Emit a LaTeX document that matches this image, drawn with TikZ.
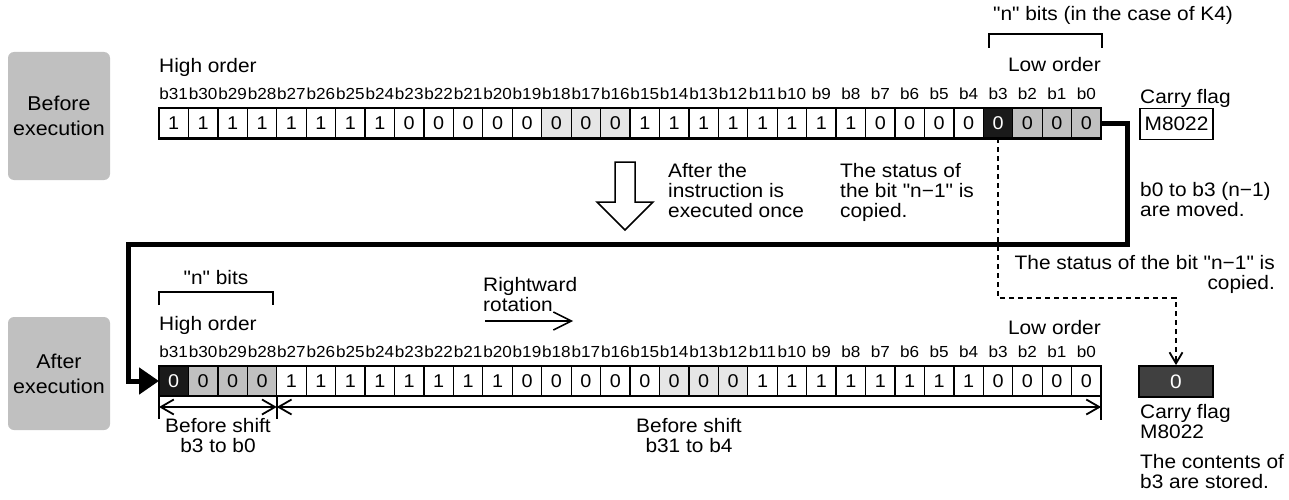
\documentclass[tikz,border=0pt]{standalone}
\usepackage{fontspec}
\setmainfont[FakeStretch=1.07, Ligatures=TeXOff]{Liberation Sans}
\usetikzlibrary{arrows.meta,calc}

\definecolor{phasegray}{HTML}{C0C0C0}
\definecolor{lightcell}{HTML}{E6E6E6}
\definecolor{graycell}{HTML}{C0C0C0}
\definecolor{darkcell}{HTML}{1A1A1A}
\definecolor{flagdark}{HTML}{404040}

\tikzset{
  bitcell/.style={draw, line width=1.3pt, minimum width=29.44pt, minimum height=30pt,
    inner sep=0pt, outer sep=0pt, font=\fontsize{18.5}{20}\selectfont},
  cplain/.style={fill=white},
  clight/.style={fill=lightcell},
  cgray/.style={fill=graycell},
  cdark/.style={fill=darkcell, text=white},
  bitno/.style={anchor=base, inner sep=0pt, font=\fontsize{16}{17}\selectfont},
  note/.style={inner sep=0pt, align=left, font=\fontsize{19.5}{20}\selectfont},
  phase/.style={fill=phasegray, rounded corners=6pt, minimum width=102pt, align=center,
    font=\fontsize{20}{25}\selectfont},
  flagbox/.style={draw, line width=1.8pt, minimum width=74pt, minimum height=31pt,
    inner sep=0pt, font=\fontsize{19.5}{20}\selectfont},
  vee/.style={line width=1.5pt, -{Straight Barb[length=18pt,width=18pt]}},
  dimarrow/.style={line width=1.8pt,
    {Straight Barb[length=13pt,width=15pt]}-{Straight Barb[length=13pt,width=15pt]}},
  flow/.style={line width=5pt, -{Triangle[length=20pt,width=26pt]}},
  copyline/.style={line width=1.8pt, dash pattern=on 5pt off 4pt,
    -{Straight Barb[length=11pt,width=13pt]}},
}

\begin{document}
\begin{tikzpicture}[x=1pt, y=-1pt]
    % --- page frame ---
    \useasboundingbox (0,0) rectangle (1289,500);

    % --- parameters ---
    \def\xo{159}       % left edge of both registers
    \def\cw{29.44}     % width of one bit cell
    \def\ytop{123.3}   % centre line of upper register
    \def\ybot{381}     % centre line of lower register

    % --- before / after boxes ---
    \node[phase, minimum height=128pt] (before) at (59,116) {Before\\execution};
    \node[phase, minimum height=113pt] (after) at (59,373.5) {After\\execution};

    % --- upper register (before execution) ---
    \foreach \v/\s [count=\i from 0] in {1/cplain,1/cplain,1/cplain,1/cplain,1/cplain,1/cplain,1/cplain,1/cplain,
        0/cplain,0/cplain,0/cplain,0/cplain,0/cplain,0/clight,0/clight,0/clight,
        1/cplain,1/cplain,1/cplain,1/cplain,1/cplain,1/cplain,1/cplain,1/cplain,
        0/cplain,0/cplain,0/cplain,0/cplain,0/cdark,0/cgray,0/cgray,0/cgray}{
      \pgfmathtruncatemacro{\b}{31-\i}
      \node[bitcell, style=\s] (top\b) at ({\xo+(\i+0.5)*\cw},\ytop) {\v};
      \node[bitno] (ntop\b) at ({\xo+(\i+0.5)*\cw},100) {b\b};
    }
    \draw[line width=2.4pt] (top31.north west) rectangle (top0.south east);

    \node[note, anchor=base west] (hightop) at (159,72.5) {High order};
    \node[note, anchor=base east] (lowtop) at (1101,72) {Low order};
    \node[note, anchor=base] (nbitstop) at (1113,21) {"n" bits (in the case of K4)};
    \draw[line width=1.8pt] (989,48) -- (989,34) -- (1102,34) -- (1102,48);

    % carry flag before
    \node[note, anchor=base west] (carrytop) at (1140,104) {Carry flag};
    \node[flagbox, minimum width=73pt] (flagtop) at (1176.5,124) {M8022};

    % --- middle notes ---
    \draw[line width=1.5pt] (615,162) -- (635,162) -- (635,202) -- (653,202) -- (625,230)
        -- (597,202) -- (615,202) -- cycle;
    \node[note, anchor=north west] (oncetxt) at (668,163) {After the\\instruction is\\executed once};
    \node[note, anchor=north west] (copytxt) at (840,163) {The status of\\the bit "n−1" is\\copied.};
    \node[note, anchor=north west] (movetxt) at (1140,182) {b0 to b3 (n−1)\\are moved.};
    \node[note, anchor=north east, align=right] (copytxtb) at (1275,255)
        {The status of the bit "n−1" is\\copied.};

    % --- lower register (after execution) ---
    \foreach \v/\s [count=\i from 0] in {0/cdark,0/cgray,0/cgray,0/cgray,
        1/cplain,1/cplain,1/cplain,1/cplain,1/cplain,1/cplain,1/cplain,1/cplain,
        0/cplain,0/cplain,0/cplain,0/cplain,0/cplain,0/clight,0/clight,0/clight,
        1/cplain,1/cplain,1/cplain,1/cplain,1/cplain,1/cplain,1/cplain,1/cplain,
        0/cplain,0/cplain,0/cplain,0/cplain}{
      \pgfmathtruncatemacro{\b}{31-\i}
      \node[bitcell, style=\s] (bot\b) at ({\xo+(\i+0.5)*\cw},\ybot) {\v};
      \node[bitno] (nbot\b) at ({\xo+(\i+0.5)*\cw},357) {b\b};
    }
    \draw[line width=2.4pt] (bot31.north west) rectangle (bot0.south east);

    \node[note, anchor=base] (nbitsbot) at (216,284) {"n" bits};
    \draw[line width=1.8pt] (159,305) -- (159,292) -- (273,292) -- (273,305);
    \node[note, anchor=base west] (highbot) at (159,330) {High order};
    \node[note, anchor=base east] (lowbot) at (1101,334) {Low order};

    \node[note, anchor=north west] (rottxt) at (483,277) {Rightward\\rotation};
    \coordinate (rotA) at (485,321);
    \coordinate (rotB) at (573,321);
    \draw[vee] (rotA) -- (rotB);

    % carry flag after
    \node[flagbox, fill=flagdark, text=white] (flagbot) at (1176,381.5) {0};
    \node[note, anchor=north west] (carrybot) at (1140,404) {Carry flag\\M8022};
    \node[note, anchor=north west] (storetxt) at (1140,454) {The contents of\\b3 are stored.};

    % --- shift spans under lower register ---
    \draw[line width=1.8pt] (bot31.south west) -- (bot31.south west |- 0,419);
    \draw[line width=1.8pt] (bot28.south east) -- (bot28.south east |- 0,419);
    \draw[line width=1.8pt] (bot0.south east) -- (bot0.south east |- 0,420);
    \draw[dimarrow] (bot31.south west |- 0,407) -- (bot28.south east |- 0,407);
    \draw[dimarrow] (bot28.south east |- 0,407) -- (bot0.south east |- 0,407);
    \node[note, anchor=north, align=center] (shifta) at (218,418) {Before shift\\b3 to b0};
    \node[note, anchor=north, align=center] (shiftb) at (689,418) {Before shift\\b31 to b4};

    % --- connectors ---
    % b3 copied into the carry flag
    \draw[copyline] (top3.south) |- (flagbot.north |- 0,298) -- (flagbot.north);
    % b3..b0 moved round to the high end
    \coordinate (turnR) at (1127,244);
    \coordinate (turnL) at (128,244);
    \draw[flow] (top0.east) -| (turnR) -- (turnL) |- (bot31.west);

\end{tikzpicture}
\end{document}
